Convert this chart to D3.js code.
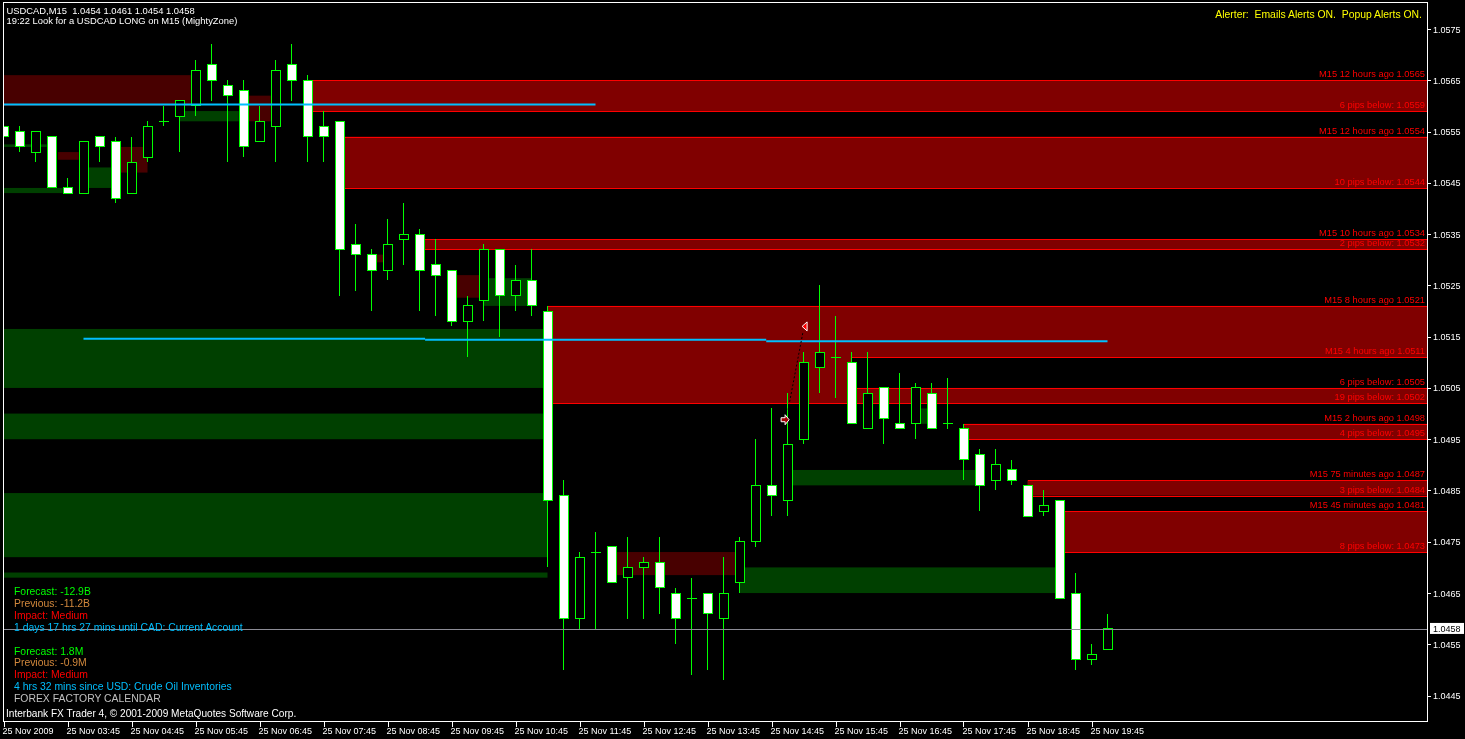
<!DOCTYPE html>
<html><head><meta charset="utf-8">
<script src="https://cdn.jsdelivr.net/npm/d3@7"></script>
<style>
html,body{margin:0;padding:0;background:#000;overflow:hidden}
svg{display:block}
text{font-family:"Liberation Sans",Arial,sans-serif;white-space:pre}
</style></head><body>
<svg id="c" width="1465" height="739"></svg>
<script>
// ---------- DATA ----------
const open = [1.0556,1.0555,1.0551,1.0554,1.0544,1.0543,1.0554,1.0553,1.0543,1.0550,
1.0557,1.0558,1.0560,1.0568,1.0564,1.0563,1.0553,1.0556,1.0568,1.0565,
1.0556,1.0557,1.0533,1.0531,1.0528,1.0534,1.0535,1.0529,1.0528,1.0518,
1.0522,1.0532,1.0523,1.0526,1.0520,1.0484,1.0460,1.0473,1.0474,1.0468,
1.0470,1.0471,1.0465,1.0464,1.0465,1.0460,1.0467,1.0475,1.0486,1.0483,
1.0495,1.0509,1.0511,1.0510,1.0497,1.0505,1.0498,1.0498,1.0504,1.0498,
1.0497,1.0492,1.0487,1.0489,1.0486,1.0481,1.0483,1.0465,1.0452,1.0454];
const high = [1.0562,1.0556,1.0555,1.0554,1.0546,1.0553,1.0554,1.0554,1.0554,1.0557,
1.0560,1.0561,1.0569,1.0572,1.0565,1.0565,1.0560,1.0569,1.0572,1.0566,
1.0559,1.0557,1.0537,1.0532,1.0538,1.0541,1.0536,1.0534,1.0528,1.0523,
1.0533,1.0532,1.0529,1.0532,1.0521,1.0487,1.0473,1.0477,1.0474,1.0476,
1.0472,1.0476,1.0466,1.0468,1.0465,1.0472,1.0476,1.0495,1.0501,1.0504,
1.0512,1.0525,1.0519,1.0512,1.0512,1.0505,1.0508,1.0506,1.0506,1.0507,
1.0498,1.0493,1.0493,1.0491,1.0486,1.0485,1.0483,1.0469,1.0455,1.0461];
const low = [1.0554,1.0551,1.0549,1.0544,1.0543,1.0543,1.0549,1.0541,1.0543,1.0549,
1.0556,1.0551,1.0558,1.0561,1.0549,1.0550,1.0553,1.0549,1.0561,1.0549,
1.0549,1.0523,1.0524,1.0520,1.0526,1.0529,1.0520,1.0519,1.0517,1.0511,
1.0518,1.0515,1.0520,1.0519,1.0470,1.0450,1.0458,1.0458,1.0467,1.0460,
1.0460,1.0461,1.0455,1.0449,1.0450,1.0448,1.0465,1.0474,1.0480,1.0480,
1.0494,1.0504,1.0503,1.0498,1.0497,1.0494,1.0497,1.0495,1.0497,1.0497,
1.0487,1.0481,1.0485,1.0486,1.0480,1.0480,1.0464,1.0450,1.0451,1.0454];
const close = [1.0554,1.0552,1.0555,1.0544,1.0543,1.0553,1.0552,1.0542,1.0549,1.0556,
1.0557,1.0561,1.0567,1.0565,1.0562,1.0552,1.0557,1.0567,1.0565,1.0554,
1.0554,1.0532,1.0531,1.0528,1.0533,1.0535,1.0528,1.0527,1.0518,1.0521,
1.0532,1.0523,1.0526,1.0521,1.0483,1.0460,1.0472,1.0473,1.0467,1.0470,
1.0471,1.0466,1.0460,1.0464,1.0461,1.0465,1.0475,1.0486,1.0484,1.0494,
1.0510,1.0512,1.0511,1.0498,1.0504,1.0499,1.0497,1.0505,1.0497,1.0498,
1.0491,1.0486,1.0490,1.0487,1.0480,1.0482,1.0464,1.0452,1.0453,1.0458];

const timeTickIdx = [0,4,8,12,16,20,24,28,32,36,40,44,48,52,56,60,64,68];
const timeTickLabels = ["25 Nov 2009","25 Nov 03:45","25 Nov 04:45","25 Nov 05:45","25 Nov 06:45","25 Nov 07:45","25 Nov 08:45","25 Nov 09:45","25 Nov 10:45","25 Nov 11:45","25 Nov 12:45","25 Nov 13:45","25 Nov 14:45","25 Nov 15:45","25 Nov 16:45","25 Nov 17:45","25 Nov 18:45","25 Nov 19:45"];
const priceTicks = [1.0445,1.0455,1.0465,1.0475,1.0485,1.0495,1.0505,1.0515,1.0525,1.0535,1.0545,1.0555,1.0565,1.0575];
const priceTickLabels = ["1.0445","1.0455","1.0465","1.0475","1.0485","1.0495","1.0505","1.0515","1.0525","1.0535","1.0545","1.0555","1.0565","1.0575"];

// supply zones (bordered)
const zoneStart = [19,21,26,34,53,60,64,66];
const zoneTop = [1.0565,1.0554,1.0534,1.0521,1.0511,1.0498,1.0487,1.0481];
const zoneBottom = [1.0559,1.0544,1.0532,1.0502,1.0505,1.0495,1.0484,1.0473];
const zoneTopLabel = ["M15 12 hours ago 1.0565","M15 12 hours ago 1.0554","M15 10 hours ago 1.0534","M15 8 hours ago 1.0521","M15 4 hours ago 1.0511","M15 2 hours ago 1.0498","M15 75 minutes ago 1.0487","M15 45 minutes ago 1.0481"];
const zoneBottomLabel = ["6 pips below: 1.0559","10 pips below: 1.0544","2 pips below: 1.0532","19 pips below: 1.0502","6 pips below: 1.0505","4 pips below: 1.0495","3 pips below: 1.0484","8 pips below: 1.0473"];

// faded / broken zones
const dimKind  = ["r","g","g","g","g","r","g","g","g","r","g","r","g","g","r","r","g","r","g"];
const dimStart = [-1,-1,-1,-1,-1,38,46,49,-1,3.4,5.3,7.3,-1,11,15.3,28,30,23,57];
const dimEnd   = [11.7,34,34,34,34,46,66,61,2.7,4.7,6.7,9,3.7,14.7,16.7,30,33,24,58];
const dimTop   = [1.0566,1.05165,1.0500,1.04845,1.0469,1.0473,1.0470,1.0489,1.05525,1.0551,1.0548,1.0552,1.0544,1.0559,1.0562,1.0527,1.05264,1.0531,1.0501];
const dimBottom= [1.0560,1.0505,1.0495,1.0472,1.0468,1.04685,1.0465,1.0486,1.0552,1.05495,1.0544,1.0547,1.0543,1.0557,1.0557,1.05226,1.0521,1.05295,1.0498];

// horizontal cyan levels (segments)
const levelStart = [-1,5,26.35,47.67];
const levelEnd   = [37,26.35,47.67,69];
const levelPrice = [1.05603,1.05146,1.05144,1.05141];

// trade markers
const tradeIdx = [48.85,50.1];
const tradePrice = [1.04988,1.0517];

const currentPrice = 1.0458;
const titleLines = ["USDCAD,M15  1.0454 1.0461 1.0454 1.0458","19:22 Look for a USDCAD LONG on M15 (MightyZone)"];
const alertText = "Alerter:  Emails Alerts ON.  Popup Alerts ON.";
const newsLines = ["Forecast: -12.9B","Previous: -11.2B","Impact: Medium","1 days 17 hrs 27 mins until CAD: Current Account","","Forecast: 1.8M","Previous: -0.9M","Impact: Medium","4 hrs 32 mins since USD: Crude Oil Inventories","FOREX FACTORY CALENDAR"];
const newsColors = ["#00ff00","#d2883c","#ff0000","#00bfff","","#00ff00","#d2883c","#ff0000","#00bfff","#c0c0c0"];
const copyright = "Interbank FX Trader 4, © 2001-2009 MetaQuotes Software Corp.";

// ---------- CHART ----------
const plot = {left:3, right:1427, top:2.5, bottom:721.5};
const svg = d3.select("#c");
const x = d3.scaleLinear().domain([0,69]).range([3.5,1107.5]);
const y = d3.scaleLinear().domain([1.0445,1.0575]).range([695.6,29]);

svg.append("rect").attr("width",1465).attr("height",739).attr("fill","#000");
svg.append("defs").append("clipPath").attr("id","pc").append("rect")
  .attr("x",plot.left+1).attr("y",plot.top).attr("width",plot.right-plot.left-1).attr("height",plot.bottom-plot.top);

const g = svg.append("g").attr("clip-path","url(#pc)");

// dim zones
const dims = d3.range(dimKind.length);
g.append("g").selectAll("rect").data(dims).join("rect")
  .attr("x",i=>x(dimStart[i])).attr("width",i=>x(dimEnd[i])-x(dimStart[i]))
  .attr("y",i=>y(dimTop[i])).attr("height",i=>y(dimBottom[i])-y(dimTop[i]))
  .attr("fill",i=>dimKind[i]==="r"?"#480000":"#004000");

// bright zones with XOR-like overlap
const zg = g.append("g").style("isolation","isolate");
const zi = d3.range(zoneStart.length);
zg.selectAll("rect").data(zi).join("rect")
  .attr("x",i=>x(zoneStart[i])).attr("width",i=>plot.right-x(zoneStart[i]))
  .attr("y",i=>y(zoneTop[i])).attr("height",i=>y(zoneBottom[i])-y(zoneTop[i]))
  .attr("fill","#800000").style("mix-blend-mode","difference");
const lines = g.append("g").attr("shape-rendering","crispEdges");
zi.forEach(i=>{
  [zoneTop[i],zoneBottom[i]].forEach(p=>{
    lines.append("line").attr("x1",x(zoneStart[i])).attr("x2",plot.right)
      .attr("y1",Math.round(y(p))+0.5).attr("y2",Math.round(y(p))+0.5)
      .attr("stroke","#ff0000").attr("stroke-width",1);
  });
});

// candles
const cg = g.append("g").attr("shape-rendering","crispEdges");
const idx = d3.range(open.length);
cg.selectAll("line.w").data(idx).join("line").attr("class","w")
  .attr("x1",i=>x(i)).attr("x2",i=>x(i))
  .attr("y1",i=>y(high[i])).attr("y2",i=>y(low[i]))
  .attr("stroke","#00ff00");
cg.selectAll("rect.b").data(idx.filter(i=>open[i]!==close[i])).join("rect").attr("class","b")
  .attr("x",i=>x(i)-4.5).attr("width",9)
  .attr("y",i=>y(Math.max(open[i],close[i]))).attr("height",i=>Math.abs(y(open[i])-y(close[i])))
  .attr("fill",i=>close[i]<open[i]?"#fff":"#000").attr("stroke","#00ff00");
cg.selectAll("line.d").data(idx.filter(i=>open[i]===close[i])).join("line").attr("class","d")
  .attr("x1",i=>x(i)-5).attr("x2",i=>x(i)+5)
  .attr("y1",i=>y(open[i])).attr("y2",i=>y(open[i])).attr("stroke","#00ff00");

// cyan levels
g.append("g").selectAll("line").data(d3.range(levelPrice.length)).join("line")
  .attr("x1",i=>x(levelStart[i])).attr("x2",i=>x(levelEnd[i]))
  .attr("y1",i=>y(levelPrice[i])).attr("y2",i=>y(levelPrice[i]))
  .attr("stroke","#00bfff").attr("stroke-width",2);

// trade markers
const t0=[x(tradeIdx[0]),y(tradePrice[0])], t1=[x(tradeIdx[1]),y(tradePrice[1])];
g.append("line").attr("x1",t0[0]+3).attr("y1",t0[1]-10).attr("x2",t1[0]-2).attr("y2",t1[1]+5)
  .attr("stroke","#000").attr("stroke-dasharray","2,2");
g.append("path").attr("d",`M${t0[0]-4},${t0[1]-2}h4v-3l4,5l-4,5v-3h-4z`).attr("fill","#a00000").attr("stroke","#fff").attr("stroke-width",1);
g.append("path").attr("d",`M${t1[0]-3},${t1[1]}l5,-4.5v9z`).attr("fill","#ff0000").attr("stroke","#fff").attr("stroke-width",1);

// current price line
svg.append("line").attr("x1",plot.left).attr("x2",plot.right)
  .attr("y1",Math.round(y(currentPrice))+0.5).attr("y2",Math.round(y(currentPrice))+0.5)
  .attr("stroke","#8c8c96").attr("shape-rendering","crispEdges");

// zone labels
const lab = svg.append("g").attr("font-size","9.3px").attr("fill","#ff0000").attr("text-anchor","end");
zi.forEach(i=>{
  lab.append("text").attr("x",1425).attr("y",y(zoneTop[i])-3).text(zoneTopLabel[i]);
  lab.append("text").attr("x",1425).attr("y",y(zoneBottom[i])-3).text(zoneBottomLabel[i]);
});

// frame
svg.append("rect").attr("x",plot.left).attr("y",plot.top).attr("width",plot.right-plot.left).attr("height",plot.bottom-plot.top)
  .attr("fill","none").attr("stroke","#fff").attr("shape-rendering","crispEdges");

// y axis
const ya = svg.append("g");
ya.selectAll("line").data(priceTicks).join("line")
  .attr("x1",plot.right).attr("x2",plot.right+4)
  .attr("y1",d=>Math.round(y(d))+0.5).attr("y2",d=>Math.round(y(d))+0.5)
  .attr("stroke","#fff").attr("shape-rendering","crispEdges");
ya.selectAll("text").data(priceTicks).join("text")
  .attr("x",plot.right+6).attr("y",d=>y(d)+3.5).attr("fill","#fff").attr("font-size","9px")
  .text((d,i)=>priceTickLabels[i]);

// current price box
svg.append("rect").attr("x",1430).attr("y",y(currentPrice)-6).attr("width",34).attr("height",11).attr("fill","#fff");
svg.append("text").attr("x",1433).attr("y",y(currentPrice)+3.5).attr("font-size","9px").attr("fill","#000").text(d3.format(".4f")(currentPrice));

// x axis
const xa = svg.append("g");
xa.selectAll("line").data(timeTickIdx).join("line")
  .attr("x1",d=>Math.round(x(d))+0.5).attr("x2",d=>Math.round(x(d))+0.5)
  .attr("y1",plot.bottom).attr("y2",plot.bottom+5)
  .attr("stroke","#fff").attr("shape-rendering","crispEdges");
xa.selectAll("text").data(timeTickIdx).join("text")
  .attr("x",d=>x(d)-1).attr("y",734).attr("fill","#fff").attr("font-size","9px")
  .text((d,i)=>timeTickLabels[i]);

// title & texts
svg.append("text").attr("x",6.5).attr("y",14).attr("fill","#fff").attr("font-size","9.4px").text(titleLines[0]);
svg.append("text").attr("x",6.5).attr("y",23.5).attr("fill","#fff").attr("font-size","9.4px").text(titleLines[1]);
svg.append("text").attr("x",1422).attr("y",17.5).attr("text-anchor","end").attr("fill","#ffff00").attr("font-size","10.4px").text(alertText);
const ng = svg.append("g").attr("font-size","10.4px");
newsLines.forEach((t,i)=>{ if(t) ng.append("text").attr("x",14).attr("y",595+i*11.9).attr("fill",newsColors[i]).text(t); });
svg.append("text").attr("x",6).attr("y",717.3).attr("fill","#fff").attr("font-size","10.1px").text(copyright);
</script>
</body></html>
